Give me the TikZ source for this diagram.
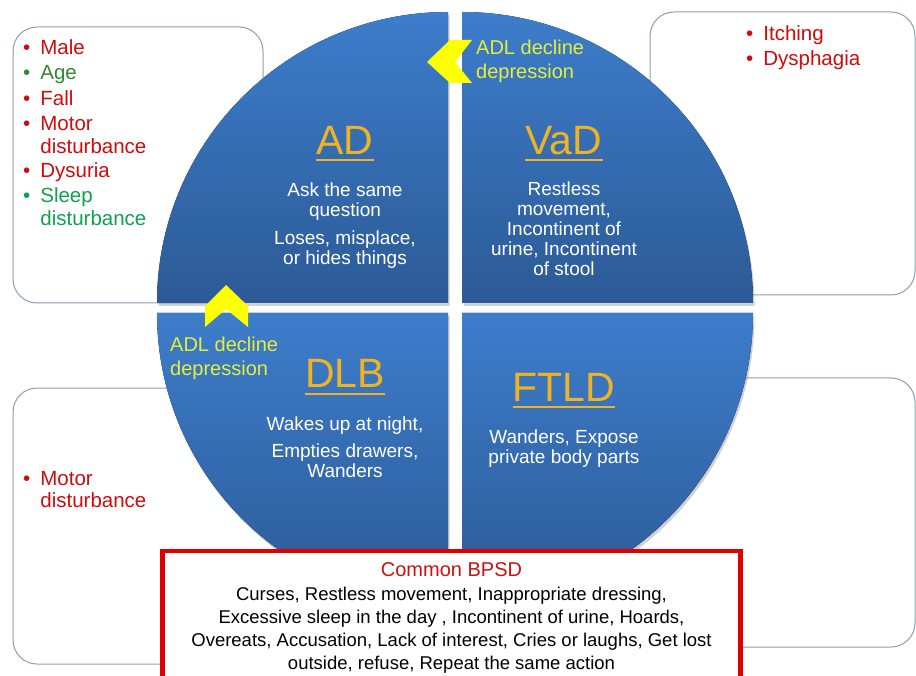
\documentclass[tikz,border=0pt]{standalone}
\usepackage{fontspec}
\setmainfont{Liberation Sans}
\usetikzlibrary{positioning, calc}
\definecolor{qtop}{HTML}{3D7DCB}
\definecolor{qbottom}{HTML}{2C5A96}
\definecolor{boxline}{HTML}{8A9FB5}
\definecolor{riskred}{HTML}{D20A0A}
\definecolor{green}{HTML}{2E8B2E}
\definecolor{sleepgreen}{HTML}{10A050}
\definecolor{gold}{HTML}{F0B323}
\definecolor{adl}{HTML}{E6EE3C}
\definecolor{chevron}{HTML}{FFFF00}
\definecolor{bpsd}{HTML}{E00000}
\definecolor{bpsdtext}{HTML}{CC1010}

\newcommand{\bitem}[1]{\textbullet\hspace{10pt}\parbox[t]{150pt}{\raggedright #1}}

\begin{document}
\begin{tikzpicture}[x=1pt, y=-1pt,
    sidebox/.style={draw=boxline, line width=1pt, fill=white, rounded corners=24pt},
    quadrant/.style={top color=qtop, bottom color=qbottom},
    risk/.style={anchor=base west, inner sep=0pt, font=\fontsize{20.5}{22.5}\selectfont},
    title/.style={anchor=base, inner sep=0pt, text=gold, font=\fontsize{41}{41}\selectfont},
    sign/.style={anchor=base, inner sep=0pt, align=center, text=white, font=\fontsize{19}{20}\selectfont},
    adl/.style={anchor=base west, inner sep=0pt, align=left, text=adl, font=\fontsize{20}{24}\selectfont},
    chev/.style={fill=chevron}]
  \useasboundingbox (0,0) rectangle (916,676);

  % boxes behind the circle
  \draw[sidebox] (13,27) rectangle (263,303);
  \draw[sidebox] (650,12) rectangle (915,295);
  \draw[sidebox] (13,388) rectangle (400,664);
  \draw[sidebox] (600,378) rectangle (915,647);

  % the four quadrants
  \foreach \cx/\cy/\a in {448/303/90, 462/303/0, 448/313/180, 462/313/270} {
    \fill[black, opacity=.18] ($(\cx,\cy)+(1.5,3)$) -- +(\a:291pt) arc[start angle=\a, end angle=\a+90, radius=291pt] -- cycle;
    \fill[quadrant] (\cx,\cy) -- +(\a:291pt) arc[start angle=\a, end angle=\a+90, radius=291pt] -- cycle;
  }

  % chevrons
  \fill[chev] (427,62) -- (450,40) -- (472,40) -- (455,62) -- (472,83) -- (450,83) -- cycle;
  \fill[chev] (226,285) -- (248,306) -- (248,327) -- (226,309) -- (205,327) -- (205,306) -- cycle;

  % titles
  \node[title] (ad) at (345,155) {AD};
  \node[title] (vad) at (564,155) {VaD};
  \node[title] (dlb) at (345,388) {DLB};
  \node[title] (ftld) at (564,401) {FTLD};
  \foreach \t in {ad, vad, dlb, ftld}
    \draw[gold, line width=2pt] ([yshift=-5.5pt]\t.base west) -- ([yshift=-5.5pt]\t.base east);

  % multi-line nodes sit on the baseline of their last line
  \node[sign] (ad text) at (345,265) {Ask the same\\question\\[8pt]Loses, misplace,\\or hides things};
  \node[sign] (vad text) at (564,276) {Restless\\movement,\\Incontinent of\\urine, Incontinent\\of stool};
  \node[sign] (dlb text) at (345,477) {Wakes up at night,\\[7pt]Empties drawers,\\Wanders};
  \node[sign] (ftld text) at (564,463) {Wanders, Expose\\private body parts};

  \node[adl] (adl top) at (476,79) {ADL decline\\depression};
  \node[adl] (adl left) at (170,375) {ADL decline\\depression};

  % risk factors
  \node[risk, text=riskred] (male) at (23,55) {\bitem{Male}};
  \node[risk, text=green] (age) at (23,80) {\bitem{Age}};
  \node[risk, text=riskred] (fall) at (23,106) {\bitem{Fall}};
  \node[risk, text=riskred] (motor) at (23,131) {\bitem{Motor\\disturbance}};
  \node[risk, text=riskred] (dysuria) at (23,178) {\bitem{Dysuria}};
  \node[risk, text=sleepgreen] (sleep) at (23,203) {\bitem{Sleep\\disturbance}};
  \node[risk, text=riskred] (itching) at (746,41) {\bitem{Itching}};
  \node[risk, text=riskred] (dysphagia) at (746,66) {\bitem{Dysphagia}};
  \node[risk, text=riskred] (motor dlb) at (23,485) {\bitem{Motor\\disturbance}};

  % common BPSD
  \draw[bpsd, line width=4.5pt, fill=white] (162.5,551) rectangle (740.5,700);
  \node[anchor=base, inner sep=0pt, text=bpsdtext, font=\fontsize{20}{24}\selectfont] (common) at (451.5,576) {Common BPSD};
  \node[anchor=base, inner sep=0pt, align=center, font=\fontsize{18.5}{22.7}\selectfont] (common list) at (451.5,669)
    {Curses, Restless movement, Inappropriate dressing,\\Excessive sleep in the day , Incontinent of urine, Hoards,\\Overeats, Accusation, Lack of interest, Cries or laughs, Get lost\\outside, refuse, Repeat the same action};
\end{tikzpicture}
\end{document}
